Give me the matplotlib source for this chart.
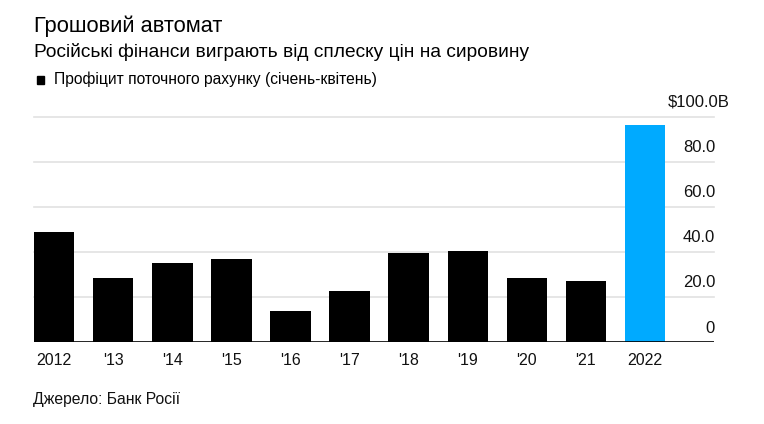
import matplotlib
matplotlib.use('Agg')
import matplotlib.pyplot as plt

years = ['2012', "'13", "'14", "'15", "'16", "'17", "'18", "'19", "'20", "'21", '2022']
surplus = [49.0, 28.5, 35.0, 36.9, 14.0, 22.6, 39.4, 40.5, 28.4, 27.3, 96.2]
bar_colors = ['#000000'] * 10 + ['#00aaff']
yticks = [0, 20, 40, 60, 80, 100]
ytick_labels = ['0', '20.0', '40.0', '60.0', '80.0', '$100.0B']

plt.rcParams['font.family'] = ['Liberation Sans', 'DejaVu Sans']

W, H = 764, 424
fig = plt.figure(figsize=(W / 100, H / 100), dpi=100)
ax = fig.add_axes([34 / W, 1 - 342.3 / H, (714 - 34) / W, (342.3 - 116.7) / H])

x = list(range(len(years)))
ax.bar(x, surplus, width=0.683, color=bar_colors, zorder=3)
ax.set_xlim(-0.342, 11.17)
ax.set_ylim(0, 100)

for v in yticks[1:]:
    ax.axhline(v, color='#e1e1e1', lw=1.2, zorder=1, clip_on=False)
ax.axhline(0, color='#000000', lw=1.2, zorder=4)

for v, lab in zip(yticks, ytick_labels):
    # the "B" hangs past the right edge, the numbers line up
    xpos = 1 + 15.3 / 680 if lab.endswith('B') else 1.0015
    ax.text(xpos, v + 4.3, lab, transform=ax.get_yaxis_transform(),
            ha='right', va='baseline', fontsize=12, color='#111111')

ax.set_xticks(x)
ax.set_xticklabels(years, fontsize=11.5, color='#111111')
ax.tick_params(axis='x', length=0, pad=7.5)
ax.set_yticks([])
for s in ax.spines.values():
    s.set_visible(False)

title = fig.text(34 / W, 1 - 32.3 / H, 'Грошовий автомат',
                 fontsize=15, va='baseline', ha='left', color='#000000')
sub = fig.text(34 / W, 1 - 57.3 / H, 'Російські фінанси виграють від сплеску цін на сировину',
               fontsize=13.5, va='baseline', ha='left', color='#000000')
fig.patches.append(plt.Rectangle((36.7 / W, 1 - 83.7 / H), 7.5 / W, 7.7 / H,
                                 transform=fig.transFigure, color='#000000'))
leg = fig.text(54 / W, 1 - 84 / H, 'Профіцит поточного рахунку (січень-квітень)',
               fontsize=10.5, va='baseline', ha='left', color='#000000')
src = fig.text(33.3 / W, 1 - 404.3 / H, 'Джерело: Банк Росії', fontsize=11,
               va='baseline', ha='left', color='#111111')

# size the header texts to the widths measured on the original
r = fig.canvas.get_renderer()
for t, target in [(title, 190), (sub, 493), (leg, 324), (src, 147)]:
    wpx = t.get_window_extent(r).width
    t.set_fontsize(t.get_fontsize() * target / wpx)

fig.savefig('out.png', dpi=100)
